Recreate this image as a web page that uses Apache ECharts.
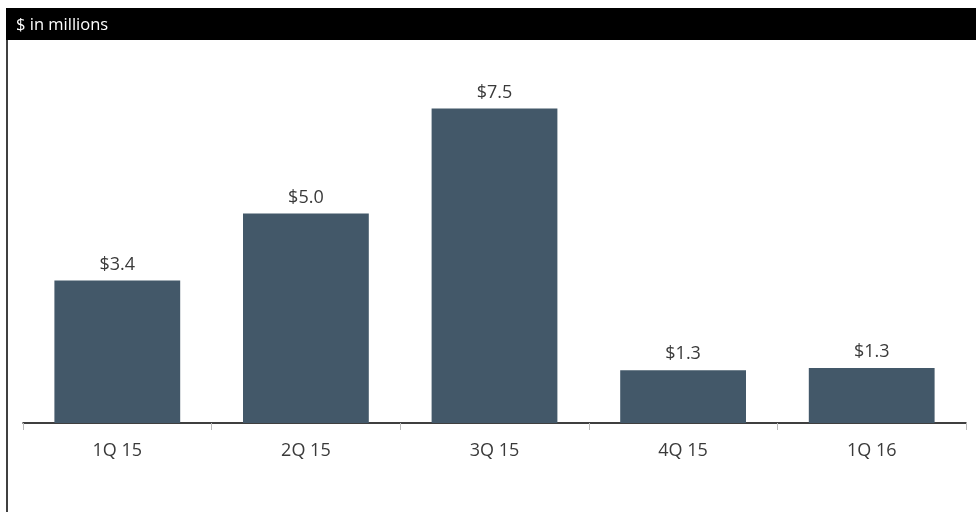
<!DOCTYPE html>
<html>
<head>
<meta charset="utf-8">
<script src="https://cdn.jsdelivr.net/npm/echarts@6/dist/echarts.min.js"></script>
<style>
html,body{margin:0;padding:0;background:#fff;}
#chart{width:976px;height:512px;}
</style>
</head>
<body>
<div id="chart"></div>
<script>
var categories = ['1Q 15', '2Q 15', '3Q 15', '4Q 15', '1Q 16'];
var values = [3.4, 5.0, 7.5, 1.26, 1.31];
var unitTitle = '$ in millions';

var chart = echarts.init(document.getElementById('chart'), null, {renderer: 'canvas'});
chart.setOption({
  animation: false,
  backgroundColor: '#ffffff',
  graphic: [
    {type: 'rect', left: 6, top: 8, shape: {width: 970, height: 32}, style: {fill: '#000'}},
    {type: 'line', shape: {x1: 7, y1: 40, x2: 7, y2: 512}, style: {stroke: '#000', lineWidth: 1.5}},
    {type: 'text', left: 16, top: 17, style: {text: unitTitle, fill: '#fff', font: '16.5px "Open Sans"'}}
  ],
  grid: {left: 23, right: 10, top: 60, bottom: 89, containLabel: false},
  xAxis: {
    type: 'category',
    data: categories,
    axisLine: {lineStyle: {color: '#000', width: 1.5}},
    axisTick: {show: true, length: 7, lineStyle: {color: '#bbb'}},
    axisLabel: {color: '#3a3a3a', fontSize: 18, fontFamily: 'Open Sans', margin: 19}
  },
  yAxis: {
    type: 'value', min: 0, max: 8.66, show: false,
    splitLine: {show: false}
  },
  series: [{
    type: 'bar',
    data: values,
    barWidth: '66.7%',
    itemStyle: {color: '#435869'},
    label: {
      show: true, position: 'top', distance: 7,
      color: '#3a3a3a', fontSize: 18, fontFamily: 'Open Sans',
      formatter: function (p) { return '$' + p.value.toFixed(1); }
    }
  }]
});
</script>
</body>
</html>
